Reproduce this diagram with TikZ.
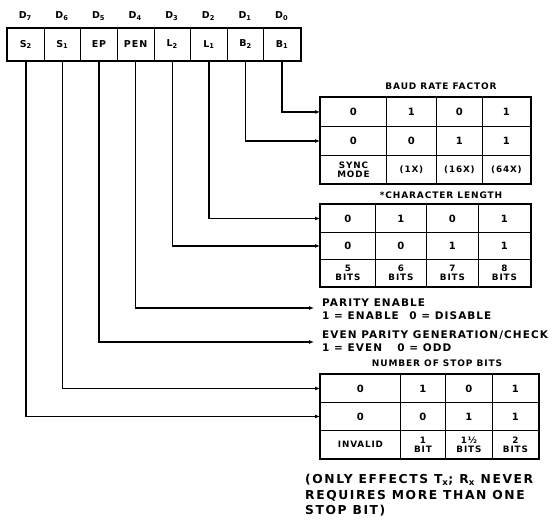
\documentclass[tikz,border=0pt]{standalone}
\usepackage{fontspec}
\setmainfont{DejaVu Sans}
\newfontfamily\spaced[LetterSpace=10]{DejaVu Sans}
\newfontfamily\wide[LetterSpace=13]{DejaVu Sans}
\usetikzlibrary{arrows.meta}
\begin{document}
\begin{tikzpicture}[x=1pt,y=-1pt,
  cellbox/.style={draw, line width=0.9pt, inner sep=0pt, anchor=north west, align=center,
    font=\fontsize{10}{9}\selectfont\bfseries},
  smallcell/.style={cellbox, font=\spaced\fontsize{8.8}{9}\selectfont\bfseries},
  regcell/.style={draw, line width=0.9pt, inner sep=0pt, anchor=north west,
    minimum width=36.625pt, minimum height=32pt, font=\spaced\fontsize{9.5}{10}\selectfont\bfseries},
  dlabel/.style={inner sep=0pt, font=\spaced\fontsize{9.5}{10}\selectfont\bfseries},
  frame/.style={draw, line width=1.8pt},
  conn/.style={draw, line width=1.5pt, -{Latex[length=5pt,width=4pt]}},
  titletext/.style={inner sep=0pt, font=\spaced\fontsize{9}{11}\selectfont\bfseries},
  bodytext/.style={inner sep=0pt, anchor=west, align=left, font=\spaced\fontsize{10.5}{13}\selectfont\bfseries},
]
\useasboundingbox (0,0) rectangle (555,522);

% ---------- register ----------
\foreach \i/\n/\d in {0/{S\textsubscript{2}}/7, 1/{S\textsubscript{1}}/6, 2/{EP}/5, 3/{PEN}/4,
                      4/{L\textsubscript{2}}/3, 5/{L\textsubscript{1}}/2, 6/{B\textsubscript{2}}/1, 7/{B\textsubscript{1}}/0} {
  \node[regcell] (r\i) at ({7+36.625*\i},28) {\n};
  \node[dlabel] (d\i) at ({7+36.625*(\i+0.5)},16) {D\textsubscript{\d}};
}
\draw[frame] (r0.north west) rectangle (r7.south east);

% ---------- baud rate factor ----------
\node[titletext] (btitle) at (441,86) {BAUD RATE FACTOR};
\node[cellbox, minimum width=66pt, minimum height=29pt] (b11) at (320,97) {0};
\node[cellbox, minimum width=50pt, minimum height=29pt] (b12) at (386,97) {1};
\node[cellbox, minimum width=46pt, minimum height=29pt] (b13) at (436,97) {0};
\node[cellbox, minimum width=48pt, minimum height=29pt] (b14) at (482,97) {1};
\node[cellbox, minimum width=66pt, minimum height=29pt] (b21) at (320,126) {0};
\node[cellbox, minimum width=50pt, minimum height=29pt] (b22) at (386,126) {0};
\node[cellbox, minimum width=46pt, minimum height=29pt] (b23) at (436,126) {1};
\node[cellbox, minimum width=48pt, minimum height=29pt] (b24) at (482,126) {1};
\node[smallcell, minimum width=66pt, minimum height=28pt] (b31) at (320,155) {SYNC\\MODE};
\node[smallcell, minimum width=50pt, minimum height=28pt] (b32) at (386,155) {(1X)};
\node[smallcell, minimum width=46pt, minimum height=28pt] (b33) at (436,155) {(16X)};
\node[smallcell, minimum width=48pt, minimum height=28pt] (b34) at (482,155) {(64X)};
\draw[frame] (b11.north west) rectangle (b34.south east);

% ---------- character length ----------
\node[titletext] (ctitle) at (441,195) {*CHARACTER LENGTH};
\node[cellbox, minimum width=55pt, minimum height=28pt] (c11) at (320,204) {0};
\node[cellbox, minimum width=51pt, minimum height=28pt] (c12) at (375,204) {1};
\node[cellbox, minimum width=52pt, minimum height=28pt] (c13) at (426,204) {0};
\node[cellbox, minimum width=52pt, minimum height=28pt] (c14) at (478,204) {1};
\node[cellbox, minimum width=55pt, minimum height=27pt] (c21) at (320,232) {0};
\node[cellbox, minimum width=51pt, minimum height=27pt] (c22) at (375,232) {0};
\node[cellbox, minimum width=52pt, minimum height=27pt] (c23) at (426,232) {1};
\node[cellbox, minimum width=52pt, minimum height=27pt] (c24) at (478,232) {1};
\node[smallcell, minimum width=55pt, minimum height=27pt] (c31) at (320,259) {5\\BITS};
\node[smallcell, minimum width=51pt, minimum height=27pt] (c32) at (375,259) {6\\BITS};
\node[smallcell, minimum width=52pt, minimum height=27pt] (c33) at (426,259) {7\\BITS};
\node[smallcell, minimum width=52pt, minimum height=27pt] (c34) at (478,259) {8\\BITS};
\draw[frame] (c11.north west) rectangle (c34.south east);

% ---------- parity texts ----------
\node[bodytext] (pe) at (322,309.5) {PARITY ENABLE\\1 = ENABLE\quad 0 = DISABLE};
\node[bodytext] (ep) at (322,341) {EVEN PARITY GENERATION/CHECK\\1 = EVEN\quad\ 0 = ODD};
\coordinate (pea) at (314,308);
\coordinate (epa) at (314,342);

% ---------- stop bits ----------
\node[titletext] (stitle) at (437,363) {NUMBER OF STOP BITS};
\node[cellbox, minimum width=80pt, minimum height=28pt] (s11) at (320,374) {0};
\node[cellbox, minimum width=45pt, minimum height=28pt] (s12) at (400,374) {1};
\node[cellbox, minimum width=47pt, minimum height=28pt] (s13) at (445,374) {0};
\node[cellbox, minimum width=46pt, minimum height=28pt] (s14) at (492,374) {1};
\node[cellbox, minimum width=80pt, minimum height=28pt] (s21) at (320,402) {0};
\node[cellbox, minimum width=45pt, minimum height=28pt] (s22) at (400,402) {0};
\node[cellbox, minimum width=47pt, minimum height=28pt] (s23) at (445,402) {1};
\node[cellbox, minimum width=46pt, minimum height=28pt] (s24) at (492,402) {1};
\node[smallcell, minimum width=80pt, minimum height=28pt] (s31) at (320,430) {INVALID};
\node[smallcell, minimum width=45pt, minimum height=28pt] (s32) at (400,430) {1\\BIT};
\node[smallcell, minimum width=47pt, minimum height=28pt] (s33) at (445,430) {1½\\BITS};
\node[smallcell, minimum width=46pt, minimum height=28pt] (s34) at (492,430) {2\\BITS};
\draw[frame] (s11.north west) rectangle (s34.south east);

\node[inner sep=0pt, anchor=north west, align=left, font=\wide\fontsize{12.3}{15.5}\selectfont\bfseries] (note) at (305,474)
  {(ONLY EFFECTS T\textsubscript{x}; R\textsubscript{x} NEVER\\REQUIRES MORE THAN ONE\\STOP BIT)};

% ---------- connectors ----------
\draw[conn] (r7.south) |- (b11.west);
\draw[conn] (r6.south) |- (b21.west);
\draw[conn] (r5.south) |- (c11.west);
\draw[conn] (r4.south) |- (c21.west);
\draw[conn] (r3.south) |- (pea);
\draw[conn] (r2.south) |- (epa);
\draw[conn] (r1.south) |- (s11.west);
\draw[conn] (r0.south) |- (s21.west);
\end{tikzpicture}
\end{document}
